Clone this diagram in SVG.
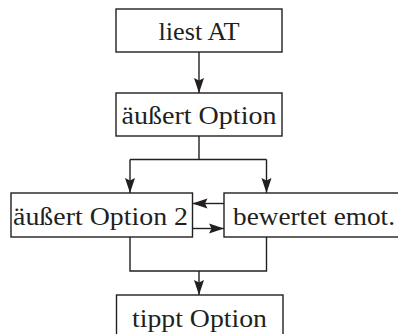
<svg xmlns="http://www.w3.org/2000/svg" width="398" height="334" viewBox="0 0 398 334">
  <style>
    .box { fill: #ffffff; stroke: #231f20; stroke-width: 1.4; }
    .lbl { font-family: "Liberation Serif", "DejaVu Serif", serif; font-size: 26px; fill: #231f20; }
    .wire { fill: none; stroke: #231f20; stroke-width: 1.4; }
  </style>
  <defs>
    <marker id="arrow" markerWidth="15" markerHeight="11" viewBox="0 0 15 11" refX="15" refY="5.5" orient="auto" markerUnits="userSpaceOnUse">
      <path d="M0,0.5 L15,5.5 L0,10.5 L2.5,5.5 Z" fill="#231f20"/>
    </marker>
  </defs>
  <rect width="398" height="334" fill="#ffffff"/>

  <g id="connectors">
    <path class="wire" d="M199,52 V93" marker-end="url(#arrow)"/>
    <path class="wire" d="M199,136 V159.5"/>
    <path class="wire" d="M130,159.5 H266.5"/>
    <path class="wire" d="M130,159.5 V193" marker-end="url(#arrow)"/>
    <path class="wire" d="M266.5,159.5 V193" marker-end="url(#arrow)"/>
    <path class="wire" d="M224,203.5 H192.5" marker-end="url(#arrow)"/>
    <path class="wire" d="M192.5,228.5 H224" marker-end="url(#arrow)"/>
    <path class="wire" d="M130,237 V271 H266.5 V237"/>
    <path class="wire" d="M199,271 V295" marker-end="url(#arrow)"/>
  </g>

  <g id="liest-at">
    <rect class="box" x="116" y="9" width="166" height="43"/>
    <text class="lbl" x="199" y="40" text-anchor="middle" textLength="81" lengthAdjust="spacingAndGlyphs">liest AT</text>
  </g>

  <g id="aeussert-option">
    <rect class="box" x="116" y="93" width="166" height="43"/>
    <text class="lbl" x="199" y="124" text-anchor="middle" textLength="155" lengthAdjust="spacingAndGlyphs">äußert Option</text>
  </g>

  <g id="aeussert-option-2">
    <rect class="box" x="11" y="193" width="181.5" height="44"/>
    <text class="lbl" x="100.5" y="225" text-anchor="middle" textLength="175" lengthAdjust="spacingAndGlyphs">äußert Option 2</text>
  </g>

  <g id="bewertet-emot">
    <rect class="box" x="224" y="193" width="180" height="44"/>
    <text class="lbl" x="233" y="225" textLength="162" lengthAdjust="spacingAndGlyphs">bewertet emot.</text>
  </g>

  <g id="tippt-option">
    <rect class="box" x="116.5" y="295" width="166.5" height="50"/>
    <text class="lbl" x="199.5" y="327" text-anchor="middle" textLength="135" lengthAdjust="spacingAndGlyphs">tippt Option</text>
  </g>
</svg>
